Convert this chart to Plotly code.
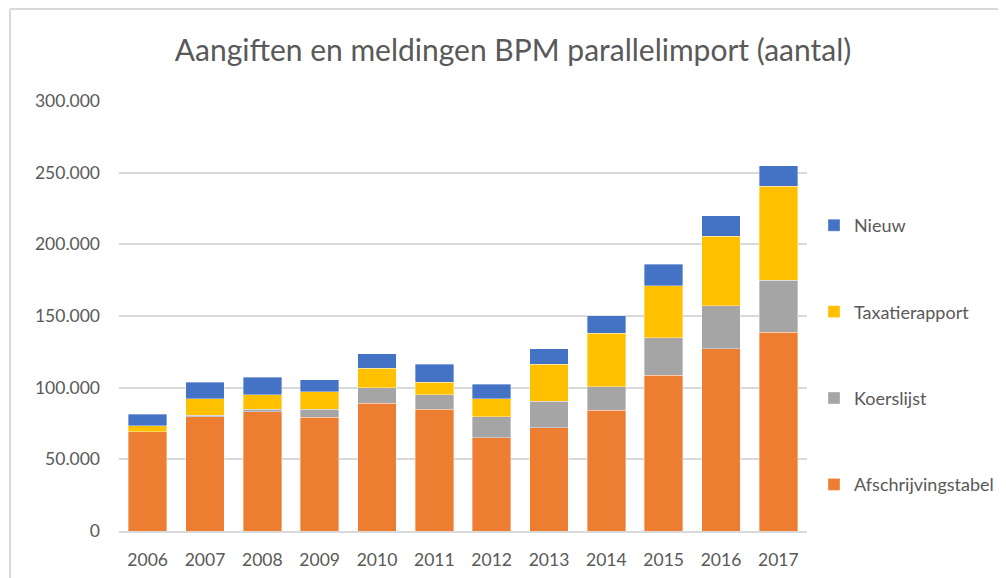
import plotly.graph_objects as go

years = ["2006", "2007", "2008", "2009", "2010", "2011", "2012", "2013", "2014", "2015", "2016", "2017"]
afschrijvingstabel = [69300, 79800, 83300, 79300, 89100, 84900, 65100, 71900, 84200, 108800, 127000, 138800]
koerslijst = [0, 1100, 1600, 5600, 10700, 10000, 14700, 18800, 16500, 25900, 30200, 36300]
taxatierapport = [4000, 11400, 10000, 12300, 13900, 8800, 12300, 25600, 37200, 36500, 48600, 65400]
nieuw = [8300, 11400, 12300, 8400, 10000, 12600, 10200, 10700, 12300, 14800, 14200, 14400]
y_ticks = [0, 50000, 100000, 150000, 200000, 250000, 300000]
y_tick_labels = ["0", "50.000", "100.000", "150.000", "200.000", "250.000", "300.000"]

series = [
    ("Afschrijvingstabel", afschrijvingstabel, "#ED7D31", 4),
    ("Koerslijst", koerslijst, "#A5A5A5", 3),
    ("Taxatierapport", taxatierapport, "#FFC000", 2),
    ("Nieuw", nieuw, "#4472C4", 1),
]

FONT = "Lato"
GREY = "#595959"

fig = go.Figure()
for name, vals, col, rank in series:
    fig.add_trace(go.Bar(
        x=years, y=vals, name=name, legendgroup=name, legendrank=rank,
        marker=dict(color=col, line=dict(color="rgba(255,255,255,0.6)", width=0.6)),
    ))

# page body has an 8px margin; compensate
OFF = 8
W, H = 1006 - OFF, 578 - OFF
L, T = 119 - OFF, 101 - OFF
pw, ph = 688, 430
R, B = W - L - pw, H - T - ph

def px_x(x):
    return (x - OFF - L) / pw

def px_y(y):
    return 1 - (y - OFF - T) / ph

fig.update_layout(
    width=W, height=H,
    margin=dict(l=L, r=R, t=T, b=B, autoexpand=False),
    paper_bgcolor="white", plot_bgcolor="white",
    barmode="stack", bargap=0.33,
    title=dict(text="Aangiften en meldingen BPM parallelimport (aantal)",
               x=(513 - OFF) / W, xanchor="center", y=1 - (50 - OFF) / H, yanchor="middle",
               font=dict(family=FONT, size=30, color=GREY)),
    font=dict(family=FONT, color=GREY),
    legend=dict(traceorder="grouped", tracegroupgap=60,
                x=px_x(814), xanchor="left", y=px_y(207), yanchor="top",
                font=dict(family=FONT, size=18, color=GREY),
                itemwidth=30, bgcolor="rgba(0,0,0,0)"),
    xaxis=dict(showgrid=False, showline=True, linecolor="#D9D9D9", linewidth=1.5,
               ticks="", ticklabelstandoff=12, automargin=False,
               tickfont=dict(family=FONT, size=17.5, color=GREY)),
    yaxis=dict(range=[0, 300000], tickvals=y_ticks, ticktext=y_tick_labels,
               showgrid=True, gridcolor="#D9D9D9", gridwidth=1.5, automargin=False,
               zeroline=False, showline=False, ticks="", ticklabelstandoff=18,
               tickfont=dict(family=FONT, size=17.5, color=GREY)),
    shapes=[
        dict(type="line", xref="paper", yref="paper",
             x0=px_x(10), x1=px_x(1010), y0=px_y(9), y1=px_y(9),
             line=dict(color="#D9D9D9", width=2)),
        dict(type="line", xref="paper", yref="paper",
             x0=px_x(10), x1=px_x(10), y0=px_y(9), y1=px_y(590),
             line=dict(color="#D9D9D9", width=2)),
    ],
)

fig.write_html("out.html")
